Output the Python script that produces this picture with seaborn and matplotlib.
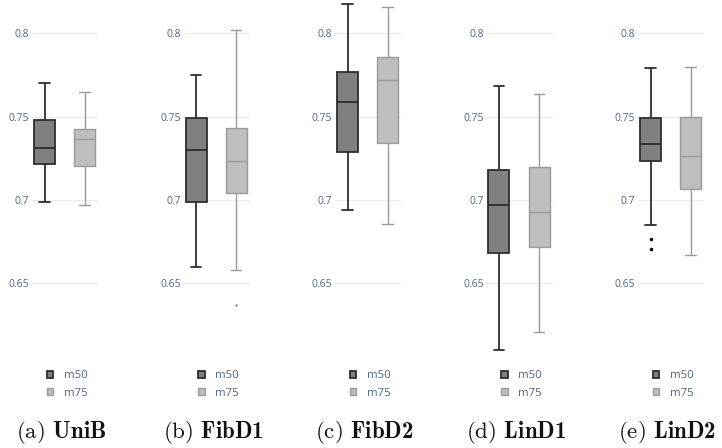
import numpy as np
import pandas as pd
import matplotlib
matplotlib.use('Agg')
import matplotlib.pyplot as plt
from matplotlib.patches import Patch
import seaborn as sns

sns.set_style('white')
plt.rcParams['font.family'] = ['Open Sans', 'DejaVu Sans']
plt.rcParams['mathtext.fontset'] = 'custom'
plt.rcParams['mathtext.rm'] = 'cmr10'
plt.rcParams['mathtext.bf'] = 'cmb10'

# valores (resumo de cinco números por painel)
panel_letters = ['a', 'b', 'c', 'd', 'e']
panel_names = ['UniB', 'FibD1', 'FibD2', 'LinD1', 'LinD2']
models = ['m50', 'm75']

m50_lower = [0.699, 0.6595, 0.694, 0.6098, 0.6852]
m50_q1 = [0.7216, 0.6988, 0.7289, 0.6684, 0.7231]
m50_median = [0.731, 0.7297, 0.7587, 0.6972, 0.7333]
m50_q3 = [0.748, 0.7493, 0.7768, 0.7177, 0.7493]
m50_upper = [0.770, 0.7749, 0.8175, 0.7683, 0.7792]
m50_outliers = [[], [], [], [], [0.6764, 0.6704]]

m75_lower = [0.6968, 0.6579, 0.6856, 0.6207, 0.6668]
m75_q1 = [0.7204, 0.704, 0.7339, 0.672, 0.7064]
m75_median = [0.7367, 0.7231, 0.7719, 0.6926, 0.7263]
m75_q3 = [0.7427, 0.7433, 0.7858, 0.7195, 0.7497]
m75_upper = [0.7647, 0.802, 0.8156, 0.7638, 0.7798]
m75_outliers = [[], [0.6367], [], [], []]

yticks = [0.65, 0.7, 0.75, 0.8]
ytick_labels = ['0.65', '0.7', '0.75', '0.8']

# estilo
fill = {'m50': '#808080', 'm75': '#bebebe'}
edge = {'m50': '#2e2e2e', 'm75': '#9a9a9a'}
lw = {'m50': 1.3, 'm75': 1.0}
flier_size = {'m50': 2.6, 'm75': 1.6}
flier_color = {'m50': '#111111', 'm75': '#777777'}
text_color = '#506784'

W, H = 722, 448
fig = plt.figure(figsize=(W / 100, H / 100), dpi=100)

stats = {
    'm50': (m50_lower, m50_q1, m50_median, m50_q3, m50_upper, m50_outliers),
    'm75': (m75_lower, m75_q1, m75_median, m75_q3, m75_upper, m75_outliers),
}

ax_w, ax_h = 66, 355
for i in range(5):
    left = 32 + i * 151.5
    ax = fig.add_axes([left / W, (H - ax_h) / H, ax_w / W, ax_h / H])

    for m in models:
        lo, q1, me, q3, up, out = stats[m]
        vals = [lo[i], q1[i], me[i], q3[i], up[i]]
        df = pd.DataFrame({'model': [m] * len(vals), 'valor': vals})
        sns.boxplot(data=df, x='model', y='valor', order=models, width=0.525,
                    whis=np.inf, color=fill[m], saturation=1, linecolor=edge[m],
                    linewidth=lw[m], ax=ax)
        if out[i]:
            dfo = pd.DataFrame({'model': [m] * len(out[i]), 'valor': out[i]})
            sns.stripplot(data=dfo, x='model', y='valor', order=models, jitter=False,
                          color=flier_color[m], size=flier_size[m], ax=ax, zorder=5)

    ax.set_xlim(-0.3125, 1.3375)
    ax.set_ylim(0.607, 0.82)
    ax.set_yticks(yticks)
    ax.set_yticklabels(ytick_labels)
    ax.set_xticks([])
    ax.set_xlabel('')
    ax.set_ylabel('')
    ax.grid(axis='y', color='#ebebeb', linewidth=0.8)
    ax.set_axisbelow(True)
    ax.tick_params(axis='y', length=0, pad=2, labelsize=7.5, labelcolor=text_color)
    for s in ax.spines.values():
        s.set_visible(False)

    handles = [Patch(facecolor=fill[m], edgecolor=edge[m], linewidth=lw[m]) for m in models]
    leg = ax.legend(handles, models, loc='upper left', bbox_to_anchor=(0.22, -0.043),
                    frameon=False, fontsize=8.2, handlelength=0.6, handleheight=0.6,
                    handletextpad=0.9, labelspacing=0.55, borderpad=0, borderaxespad=0)
    for t in leg.get_texts():
        t.set_color(text_color)

    fig.text((left + 29.5) / W, 1 - 432 / H,
             r'$\mathrm{(%s)}\ \mathbf{%s}$' % (panel_letters[i], panel_names[i]),
             ha='center', va='center', fontsize=16.5, color='#111111')

fig.savefig('out.png', dpi=100)
